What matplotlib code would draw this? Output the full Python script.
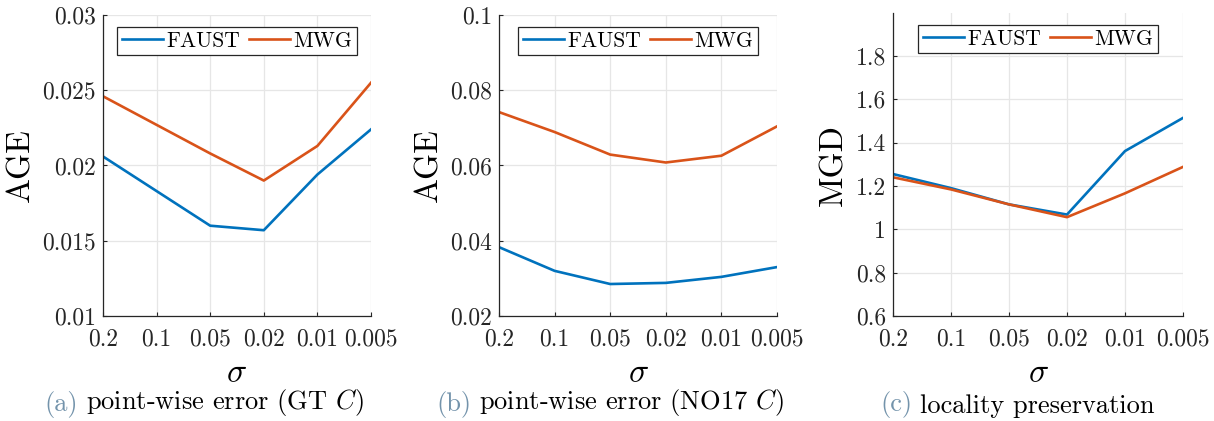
import numpy as np
import matplotlib
matplotlib.use('Agg')
import matplotlib.pyplot as plt

plt.rcParams['font.family'] = 'serif'
plt.rcParams['font.serif'] = ['cmr10', 'DejaVu Serif']
plt.rcParams['mathtext.fontset'] = 'cm'
plt.rcParams['axes.unicode_minus'] = False
plt.rcParams['axes.formatter.use_mathtext'] = True

sigma_labels = ['0.2', '0.1', '0.05', '0.02', '0.01', '0.005']
series_names = ['FAUST', 'MWG']

# (a) point-wise error, GT C
age_gt_faust = [0.0206, 0.0183, 0.0160, 0.0157, 0.0194, 0.0224]
age_gt_mwg = [0.0246, 0.0227, 0.0208, 0.0190, 0.0213, 0.0255]
# (b) point-wise error, NO17 C
age_no17_faust = [0.0383, 0.0320, 0.0285, 0.0288, 0.0304, 0.0330]
age_no17_mwg = [0.0742, 0.0689, 0.0629, 0.0608, 0.0626, 0.0704]
# (c) locality preservation
mgd_faust = [1.255, 1.190, 1.115, 1.068, 1.361, 1.514]
mgd_mwg = [1.240, 1.184, 1.115, 1.056, 1.166, 1.288]

blue = '#0072BD'
orange = '#D95319'
cap_color = '#7393ab'

panels = [
    dict(f=age_gt_faust, m=age_gt_mwg, ylabel='AGE', ylim=(0.01, 0.03),
         yticks=[0.01, 0.015, 0.02, 0.025, 0.03], ylabs=['0.01', '0.015', '0.02', '0.025', '0.03'],
         pos=[103, 371, 15], tag='(a)', cap='point-wise error (GT $C$)', capx=44),
    dict(f=age_no17_faust, m=age_no17_mwg, ylabel='AGE', ylim=(0.02, 0.1),
         yticks=[0.02, 0.04, 0.06, 0.08, 0.1], ylabs=['0.02', '0.04', '0.06', '0.08', '0.1'],
         pos=[499, 777, 15], tag='(b)', cap='point-wise error (NO17 $C$)', capx=436),
    dict(f=mgd_faust, m=mgd_mwg, ylabel='MGD', ylim=(0.6, 1.998),
         yticks=[0.6, 0.8, 1.0, 1.2, 1.4, 1.6, 1.8], ylabs=['0.6', '0.8', '1', '1.2', '1.4', '1.6', '1.8'],
         pos=[893, 1183, 13], tag='(c)', cap='locality preservation', capx=880),
]

W, H = 1214, 421
fig = plt.figure(figsize=(W / 100, H / 100), dpi=100)
x = np.arange(len(sigma_labels))
bottom_px = 316

for p in panels:
    l, r, t = p['pos']
    ax = fig.add_axes([l / W, (H - bottom_px) / H, (r - l) / W, (bottom_px - t) / H])
    ax.plot(x, p['f'], color=blue, lw=1.9, label=series_names[0])
    ax.plot(x, p['m'], color=orange, lw=1.9, label=series_names[1])
    ax.set_xlim(0, len(x) - 1)
    ax.set_ylim(*p['ylim'])
    ax.set_xticks(x)
    ax.set_xticklabels(sigma_labels)
    ax.set_yticks(p['yticks'])
    ax.set_yticklabels(p['ylabs'])
    ax.tick_params(direction='in', length=3, width=0.8, labelsize=17, colors='#262626')
    ax.tick_params(axis='x', pad=9)
    ax.tick_params(axis='y', pad=5)
    ax.grid(True, color='#e6e6e6', lw=0.9)
    ax.set_axisbelow(True)
    for s in ['top', 'right']:
        ax.spines[s].set_visible(False)
    for s in ['left', 'bottom']:
        ax.spines[s].set_color('#262626')
        ax.spines[s].set_linewidth(0.9)
    ax.set_ylabel(p['ylabel'], fontsize=24, labelpad=5)
    ax.set_xlabel(r'$\sigma$', fontsize=24, labelpad=6)
    leg = ax.legend(ncol=2, loc='upper center', bbox_to_anchor=(0.5, 1 - 12 / (bottom_px - t)),
                    borderaxespad=0, fontsize=15.5, fancybox=False, framealpha=1,
                    edgecolor='#262626', handlelength=1.9, handletextpad=0.15,
                    columnspacing=0.45, borderpad=0.2)
    leg.get_frame().set_linewidth(0.9)

    tg = fig.text(p['capx'] / W, (H - 405) / H, p['tag'], fontsize=19, color=cap_color,
                  ha='left', va='center')
    plt.annotate(p['cap'], xy=(1, 0), xycoords=tg, xytext=(6, 0),
                 textcoords='offset points', fontsize=19, ha='left', va='bottom',
                 annotation_clip=False)

fig.savefig('out.png', dpi=100)
